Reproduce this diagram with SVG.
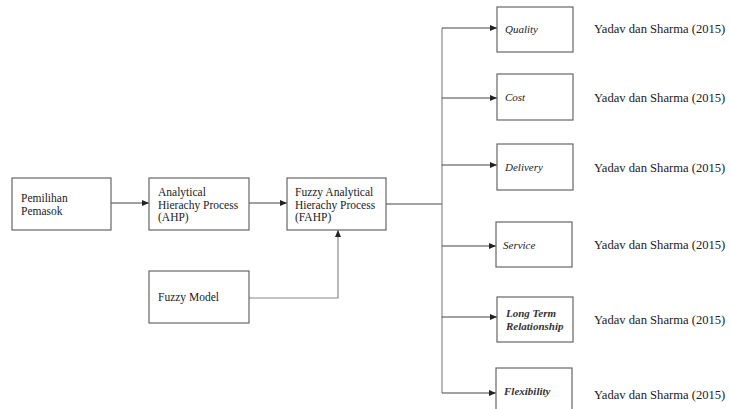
<svg xmlns="http://www.w3.org/2000/svg" width="730" height="409" viewBox="0 0 730 409">
<defs>
<marker id="ah" markerUnits="userSpaceOnUse" markerWidth="8" markerHeight="7" refX="7" refY="3" orient="auto">
<path d="M0,0 L7,3 L0,6 z" fill="#222"/>
</marker>
<style>
.box{fill:#fff;stroke:#666;stroke-width:1.2}
.t{font-family:"Liberation Serif","Times New Roman",serif;font-size:11.5px;fill:#222}
.i{font-family:"Liberation Serif","Times New Roman",serif;font-size:11px;font-style:italic;fill:#222}
.bi{font-family:"Liberation Serif","Times New Roman",serif;font-size:11px;font-style:italic;font-weight:bold;fill:#333}
.c{font-family:"Liberation Serif","Times New Roman",serif;font-size:12.6px;fill:#222}
.ln{fill:none;stroke:#444;stroke-width:1}
.lg{fill:none;stroke:#888;stroke-width:1.2}
</style>
</defs>
<rect width="730" height="409" fill="#fff"/>
<g id="connectors">
<line class="ln" x1="111" y1="203" x2="149" y2="203" marker-end="url(#ah)"/>
<line class="ln" x1="249" y1="203" x2="287" y2="203" marker-end="url(#ah)"/>
<polyline class="lg" points="249,298 338,298 338,230" marker-end="url(#ah)"/>
<line class="ln" x1="386" y1="204" x2="442" y2="204"/>
<line class="lg" x1="442" y1="28" x2="442" y2="393"/>
<line class="ln" x1="442" y1="28" x2="497" y2="28" marker-end="url(#ah)"/>
<line class="ln" x1="442" y1="98" x2="497" y2="98" marker-end="url(#ah)"/>
<line class="ln" x1="442" y1="165" x2="497" y2="165" marker-end="url(#ah)"/>
<line class="ln" x1="442" y1="246" x2="496" y2="246" marker-end="url(#ah)"/>
<line class="ln" x1="442" y1="317" x2="497" y2="317" marker-end="url(#ah)"/>
<line class="ln" x1="442" y1="393" x2="496" y2="393" marker-end="url(#ah)"/>
</g>
<g id="pemilihan">
<rect class="box" x="12" y="178" width="99" height="52"/>
<text class="t" x="21" y="202">Pemilihan</text>
<text class="t" x="21" y="215">Pemasok</text>
</g>
<g id="ahp">
<rect class="box" x="149" y="178" width="100" height="52"/>
<text class="t" x="158" y="196">Analytical</text>
<text class="t" x="158" y="208.5">Hierachy Process</text>
<text class="t" x="158" y="221">(AHP)</text>
</g>
<g id="fahp">
<rect class="box" x="287" y="178" width="99" height="52"/>
<text class="t" x="295" y="196">Fuzzy Analytical</text>
<text class="t" x="295" y="208.5">Hierachy Process</text>
<text class="t" x="295" y="221">(FAHP)</text>
</g>
<g id="fuzzy-model">
<rect class="box" x="149" y="271" width="100" height="52"/>
<text class="t" x="158" y="301">Fuzzy Model</text>
</g>
<g id="quality">
<rect class="box" x="497" y="7" width="76" height="45"/>
<text class="i" x="505" y="33">Quality</text>
</g>
<g id="cost">
<rect class="box" x="497" y="74" width="76" height="46"/>
<text class="i" x="505" y="101">Cost</text>
</g>
<g id="delivery">
<rect class="box" x="497" y="144" width="76" height="46"/>
<text class="i" x="505" y="171">Delivery</text>
</g>
<g id="service">
<rect class="box" x="496" y="222" width="76" height="45"/>
<text class="i" x="503" y="249">Service</text>
</g>
<g id="long-term">
<rect class="box" x="497" y="297" width="76" height="45"/>
<text class="bi" x="506" y="317">Long Term</text>
<text class="bi" x="506" y="330">Relationship</text>
</g>
<g id="flexibility">
<rect class="box" x="496" y="368" width="76" height="50"/>
<text class="bi" x="504" y="395">Flexibility</text>
</g>
<g id="citations">
<text class="c" x="594" y="33">Yadav dan Sharma (2015)</text>
<text class="c" x="594" y="102">Yadav dan Sharma (2015)</text>
<text class="c" x="594" y="172">Yadav dan Sharma (2015)</text>
<text class="c" x="594" y="249">Yadav dan Sharma (2015)</text>
<text class="c" x="594" y="324">Yadav dan Sharma (2015)</text>
<text class="c" x="594" y="399">Yadav dan Sharma (2015)</text>
</g>
</svg>
